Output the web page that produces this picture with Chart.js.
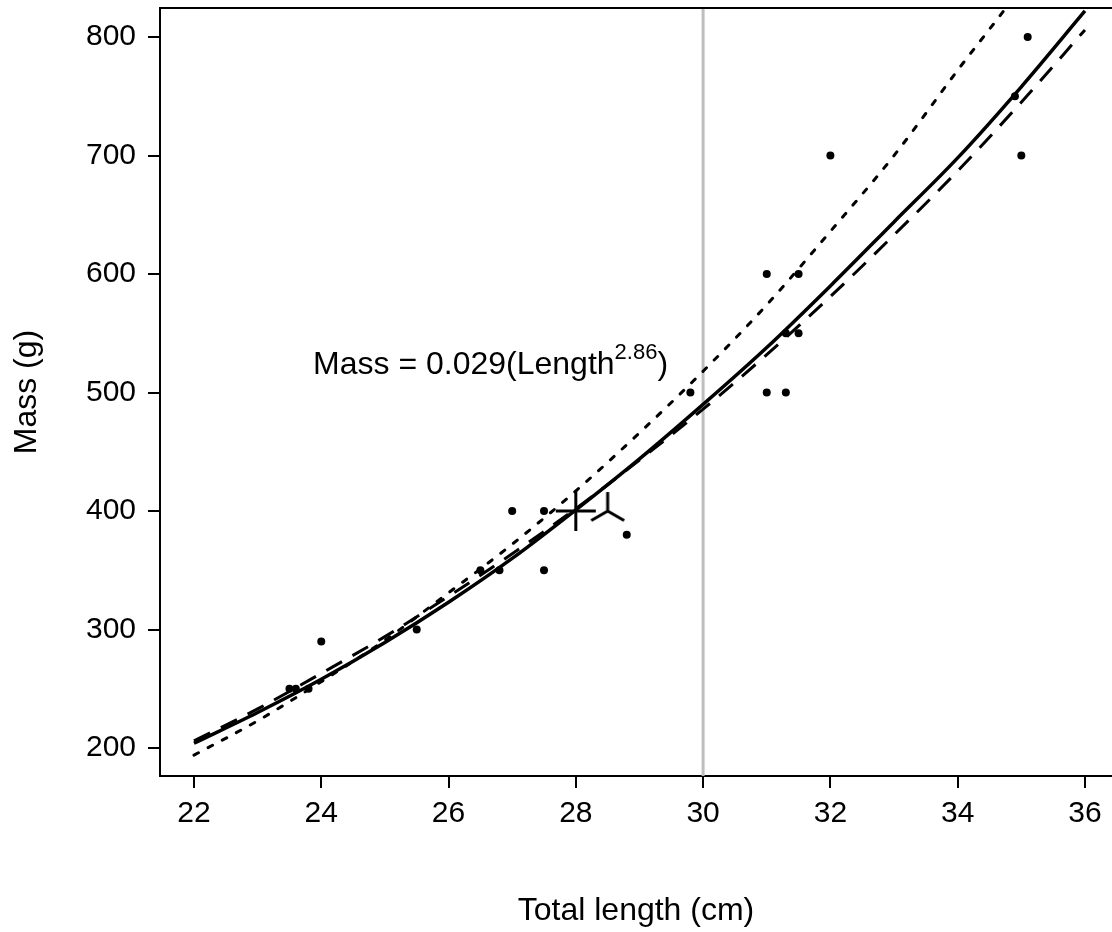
<!DOCTYPE html>
<html>
<head>
<meta charset="utf-8">
<script src="https://cdn.jsdelivr.net/npm/chart.js@4/dist/chart.umd.min.js"></script>
<style>
  html, body { margin: 0; background: #fff; }
  #wrap { width: 1112px; height: 932px; }
</style>
</head>
<body>
<div id="wrap"><canvas id="chart"></canvas></div>
<script>
// observed fish
const lengthObs = [23.5, 23.6, 23.8, 24.0, 25.5, 26.5, 26.8, 27.0, 27.5, 27.5, 28.8, 29.8, 31.0, 31.0, 31.3, 31.3, 31.5, 31.5, 32.0, 34.9, 35.0, 35.1];
const massObs   = [250, 250, 250, 290, 300, 350, 350, 400, 400, 350, 380, 500, 600, 500, 500, 550, 600, 550, 700, 750, 700, 800];

// fitted curves
const curveLength = [22, 23, 24, 25, 26, 27, 28, 29, 30, 31, 32, 33, 34, 35, 36];
const fitSolid  = [204, 230, 258, 289, 323, 360, 401, 444, 490, 538, 590, 644, 698, 758, 822];
const fitDashed = [206, 233, 263, 294, 328, 364, 402, 443, 486, 532, 581, 633, 687, 745, 806];
const fitDotted = [194, 223, 256, 291, 331, 372, 417, 466, 518, 574, 636, 700, 772, 842, 920];

// special markers (plus and tri)
const plusLength = [28];
const plusMass = [400];
const triLength = [28.5];
const triMass = [400];

const refLength = 30;
const xTicks = [22, 24, 26, 28, 30, 32, 34, 36];
const yTicks = [200, 300, 400, 500, 600, 700, 800];

const FONT = "'Liberation Sans', Arial, sans-serif";

function pts(xs, ys) {
  return xs.map((x, i) => ({ x: x, y: ys[i] }));
}

// three-armed marker image
function triMarker(r, lw) {
  const size = 2 * r + 2 * lw;
  const c = document.createElement("canvas");
  c.width = size;
  c.height = size;
  const g = c.getContext("2d");
  const m = size / 2;
  g.strokeStyle = "#000";
  g.lineWidth = lw;
  g.beginPath();
  [-90, 30, 150].forEach((a) => {
    const rad = (a * Math.PI) / 180;
    g.moveTo(m, m);
    g.lineTo(m + r * Math.cos(rad), m + r * Math.sin(rad));
  });
  g.stroke();
  return c;
}

// grey reference line, top box line, equation text
const extras = {
  id: "extras",
  beforeDatasetsDraw(chart) {
    const { ctx, chartArea, scales } = chart;
    const px = scales.x.getPixelForValue(refLength);
    ctx.save();
    ctx.strokeStyle = "#bebebe";
    ctx.lineWidth = 3;
    ctx.beginPath();
    ctx.moveTo(px, chartArea.top);
    ctx.lineTo(px, chartArea.bottom);
    ctx.stroke();
    ctx.restore();
  },
  afterDraw(chart) {
    const { ctx, chartArea, scales } = chart;
    ctx.save();
    ctx.strokeStyle = "#000";
    ctx.lineWidth = 2;
    ctx.beginPath();
    ctx.moveTo(chartArea.left, chartArea.top);
    ctx.lineTo(chartArea.right, chartArea.top);
    ctx.stroke();

    const main = "Mass = 0.029(Length";
    const sup = "2.86";
    const close = ")";
    const big = "32px " + FONT;
    const small = "22px " + FONT;
    ctx.font = big;
    const w1 = ctx.measureText(main).width;
    const w3 = ctx.measureText(close).width;
    ctx.font = small;
    const w2 = ctx.measureText(sup).width;
    const cx = scales.x.getPixelForValue(26.66);
    const cy = scales.y.getPixelForValue(525);
    let x = cx - (w1 + w2 + w3) / 2;
    const base = cy + 11;
    ctx.fillStyle = "#000";
    ctx.textBaseline = "alphabetic";
    ctx.textAlign = "left";
    ctx.font = big;
    ctx.fillText(main, x, base);
    x += w1;
    ctx.font = small;
    ctx.fillText(sup, x, base - 15);
    x += w2;
    ctx.font = big;
    ctx.fillText(close, x, base);
    ctx.restore();
  },
};

const ctx = document.getElementById("chart");

new Chart(ctx, {
  type: "scatter",
  data: {
    datasets: [
      {
        label: "dotted",
        data: pts(curveLength, fitDotted),
        showLine: true,
        borderColor: "#000",
        borderWidth: 3,
        borderDash: [5, 11],
        borderCapStyle: "round",
        pointRadius: 0,
        cubicInterpolationMode: "monotone",
      },
      {
        label: "dashed",
        data: pts(curveLength, fitDashed),
        showLine: true,
        borderColor: "#000",
        borderWidth: 3,
        borderDash: [18, 12],
        pointRadius: 0,
        cubicInterpolationMode: "monotone",
      },
      {
        label: "solid",
        data: pts(curveLength, fitSolid),
        showLine: true,
        borderColor: "#000",
        borderWidth: 3.5,
        pointRadius: 0,
        cubicInterpolationMode: "monotone",
      },
      {
        label: "obs",
        data: pts(lengthObs, massObs),
        pointRadius: 4,
        pointBackgroundColor: "#000",
        pointBorderColor: "#000",
        pointBorderWidth: 0,
      },
      {
        label: "plus",
        data: pts(plusLength, plusMass),
        pointStyle: "cross",
        pointRadius: 20,
        pointBorderColor: "#000",
        pointBorderWidth: 3,
      },
      {
        label: "tri",
        data: pts(triLength, triMass),
        pointStyle: triMarker(19, 3),
        pointRadius: 20,
      },
    ],
  },
  options: {
    responsive: true,
    maintainAspectRatio: false,
    animation: false,
    events: [],
    layout: { autoPadding: false, padding: { top: 8, left: 0, right: 0, bottom: 0 } },
    plugins: {
      legend: { display: false },
      tooltip: { enabled: false },
    },
    scales: {
      x: {
        type: "linear",
        min: 21.466,
        max: 36.425,
        afterBuildTicks: (s) => {
          s.ticks = xTicks.map((v) => ({ value: v }));
        },
        afterFit: (s) => {
          s.height = 156;
          s.paddingLeft = 0;
          s.paddingRight = 0;
        },
        ticks: {
          color: "#000",
          font: { family: FONT, size: 30 },
          padding: 8,
          maxRotation: 0,
          callback: (v) => String(v),
        },
        grid: {
          drawOnChartArea: false,
          drawTicks: true,
          tickLength: 12,
          color: "#000",
          lineWidth: 2,
        },
        border: { display: true, color: "#000", width: 2 },
        title: {
          display: true,
          text: "Total length (cm)",
          color: "#000",
          font: { family: FONT, size: 32 },
          padding: { top: 0, bottom: 2 },
        },
      },
      y: {
        type: "linear",
        min: 176.4,
        max: 824.5,
        afterBuildTicks: (s) => {
          s.ticks = yTicks.map((v) => ({ value: v }));
        },
        afterFit: (s) => {
          s.width = 160;
          s.paddingTop = 0;
          s.paddingBottom = 0;
        },
        ticks: {
          color: "#000",
          font: { family: FONT, size: 30 },
          padding: 12,
          callback: (v) => String(v),
        },
        grid: {
          drawOnChartArea: false,
          drawTicks: true,
          tickLength: 12,
          color: "#000",
          lineWidth: 2,
        },
        border: { display: true, color: "#000", width: 2 },
        title: {
          display: true,
          text: "Mass (g)",
          color: "#000",
          font: { family: FONT, size: 32 },
          padding: { top: 8, bottom: 0 },
        },
      },
    },
  },
  plugins: [extras],
});
</script>
</body>
</html>
